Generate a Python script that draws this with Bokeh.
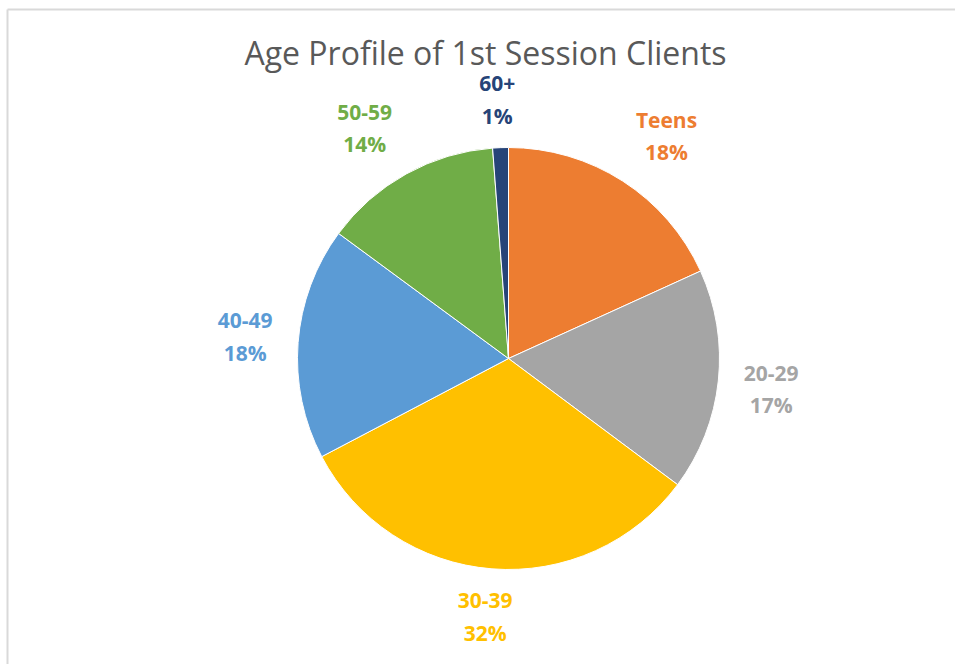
import numpy as np
from bokeh.plotting import figure
from bokeh.models import ColumnDataSource
from bokeh.core.properties import value
from bokeh.embed import file_html
from bokeh.resources import INLINE

# ---- data ----
categories = ["Teens", "20-29", "30-39", "40-49", "50-59", "60+"]
shares = [18.2, 17.0, 32.1, 17.8, 13.7, 1.2]
pct_labels = ["18%", "17%", "32%", "18%", "14%", "1%"]
colors = ["#ED7D31", "#A5A5A5", "#FFC000", "#5B9BD5", "#70AD47", "#264478"]
title_text = "Age Profile of 1st Session Clients"

# ---- layout ----
W, H = 955, 664
cx, cy, R = 508, 306, 211

frac = np.array(shares) / sum(shares)
cum_end = np.cumsum(frac)
cum_start = cum_end - frac
start = np.pi / 2 - cum_start * 2 * np.pi
end = np.pi / 2 - cum_end * 2 * np.pi
mid = (cum_start + cum_end) / 2 * 2 * np.pi  # clockwise from top

g, bw, bh = 20, 66, 56
sx, cyy = np.sin(mid), np.cos(mid)
lx = cx + (R + g) * sx + bw / 2 * np.clip(2 * sx, -1, 1)
ly = cy + (R + g) * cyy + bh / 2 * np.clip(2 * cyy, -1, 1)

src = ColumnDataSource(dict(start=start, end=end, color=colors,
                            cat=categories, pct=pct_labels,
                            lx=lx, ly1=ly + 16, ly2=ly - 16))

p = figure(width=W, height=H, x_range=(0, W), y_range=(0, H),
           output_backend="svg", toolbar_location=None, min_border=0)
p.axis.visible = False
p.grid.visible = False
p.outline_line_color = None
p.background_fill_color = "white"
p.border_fill_color = "white"

# chart area border (top and left visible)
p.line([7, 7], [0, H - 9], line_color="#d9d9d9", line_width=2)
p.line([7, W], [H - 9, H - 9], line_color="#d9d9d9", line_width=2)

p.wedge(x=cx, y=cy, radius=R, start_angle="start", end_angle="end",
        direction="clock", fill_color="color", line_color="white",
        line_width=1, source=src)

p.text(x="lx", y="ly1", text="cat", text_color="color", source=src,
       text_font=value("Open Sans"), text_font_style="bold",
       text_font_size="21px", text_align="center", text_baseline="middle")
p.text(x="lx", y="ly2", text="pct", text_color="color", source=src,
       text_font=value("Open Sans"), text_font_style="bold",
       text_font_size="21px", text_align="center", text_baseline="middle")

p.text(x=[485], y=[H - 52], text=[title_text], text_color="#595959",
       text_font=value("Open Sans"), text_font_size="32px",
       text_align="center", text_baseline="middle")

open("out.html", "w").write(file_html(p, INLINE))
